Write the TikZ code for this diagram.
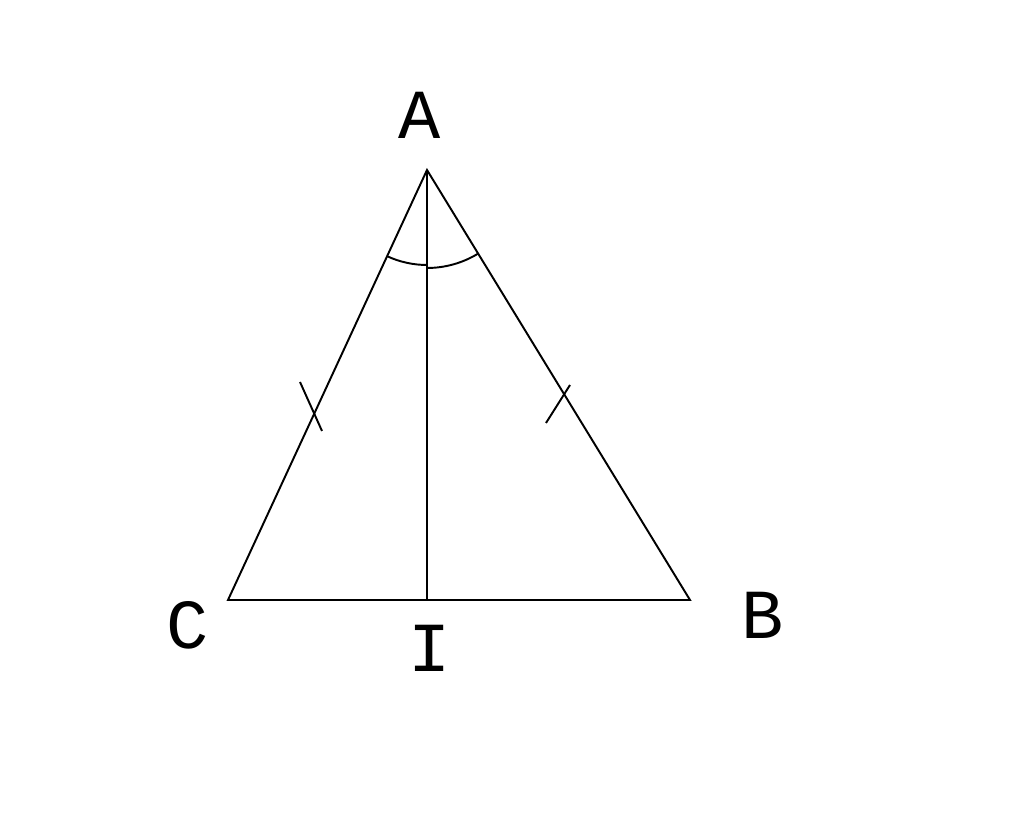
\documentclass[tikz,border=0pt]{standalone}
\usepackage{fontspec}
\setmainfont{Liberation Mono}
\begin{document}
\begin{tikzpicture}[x=0.02cm,y=0.02cm,line width=1.1pt,
  lbl/.style={font=\fontsize{40}{40}\selectfont}]
   \useasboundingbox (0,0) rectangle (1024,827);

   \coordinate (A) at (427,657);
   \coordinate (C) at (228,227);
   \coordinate (B) at (690,227);
   \coordinate (I) at (427,227);

   \draw (A) -- (C) -- (B) -- cycle;
   \draw (A) -- (I);

   % angles at A
   \draw ([shift={(245.2:95)}]A) arc(245.2:270:95);
   \draw ([shift={(270:98)}]A) arc(270:301.5:98);

   % equal sides
   \draw (300,445) -- (322,396);
   \draw (546,404) -- (570,442);

   \node[lbl] (la) at (420,712) {A};
   \node[lbl] (lc) at (188,202) {C};
   \node[lbl] (lb) at (763,212) {B};
   \node[lbl] (li) at (430,179) {I};
\end{tikzpicture}
\end{document}
